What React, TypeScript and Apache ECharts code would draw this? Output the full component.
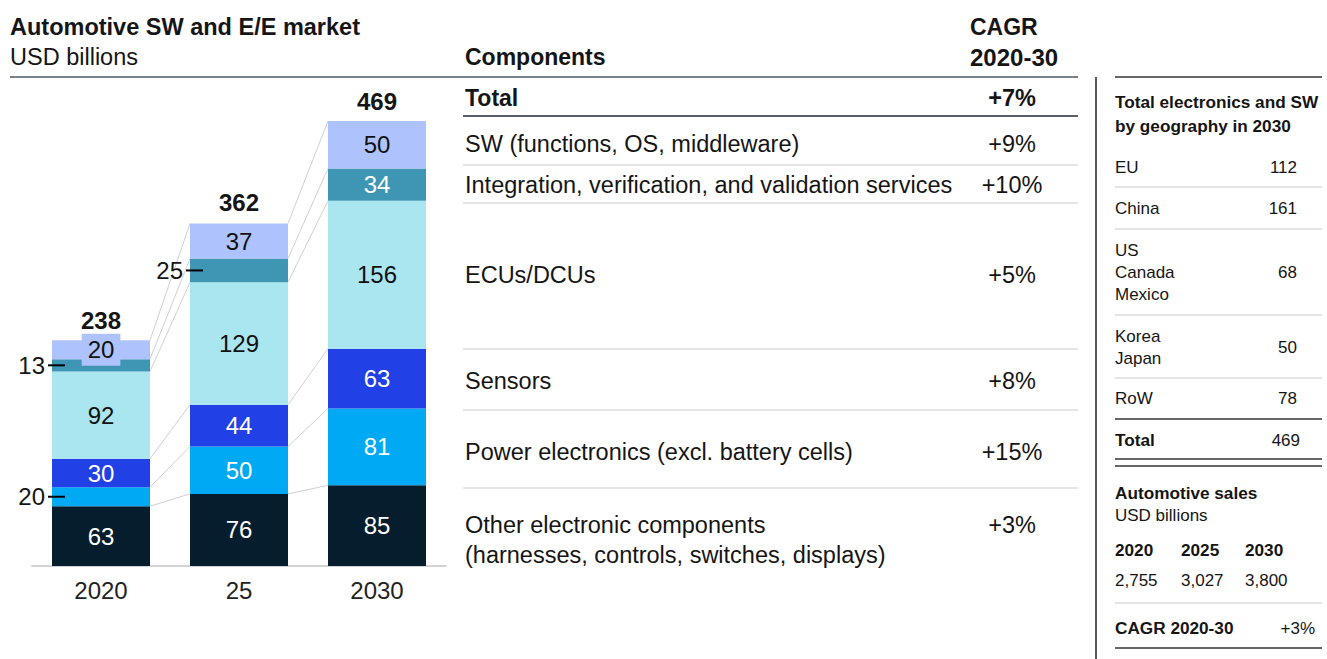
import React, { useEffect, useRef } from "react";
import * as echarts from "echarts";

// ---------- data ----------
const years = ["2020", "25", "2030"];
const seriesNames = [
  "Other electronic components",
  "Power electronics",
  "Sensors",
  "ECUs/DCUs",
  "Integration, verification, and validation services",
  "SW (functions, OS, middleware)",
];
const otherVals = [63, 76, 85];
const powerVals = [20, 50, 81];
const sensorVals = [30, 44, 63];
const ecuVals = [92, 129, 156];
const integrationVals = [13, 25, 34];
const swVals = [20, 37, 50];
const totals = [238, 362, 469];

const componentLabels = [
  ["Total"],
  ["SW (functions, OS, middleware)"],
  ["Integration, verification, and validation services"],
  ["ECUs/DCUs"],
  ["Sensors"],
  ["Power electronics (excl. battery cells)"],
  ["Other electronic components", "(harnesses, controls, switches, displays)"],
];
const componentCagr = ["+7%", "+9%", "+10%", "+5%", "+8%", "+15%", "+3%"];

const geoNames = [["EU"], ["China"], ["US", "Canada", "Mexico"], ["Korea", "Japan"], ["RoW"]];
const geoValues = [112, 161, 68, 50, 78];
const geoTotal = 469;
const salesYears = ["2020", "2025", "2030"];
const salesValues = ["2,755", "3,027", "3,800"];
const salesCagr = "+3%";

// ---------- styles ----------
const FONT = "'Liberation Sans', Arial, sans-serif";
const colors = ["#061d2d", "#00a9f4", "#2140e6", "#aae6f0", "#3e96b4", "#aec3fd"];
const labelColors = ["#ffffff", "#ffffff", "#ffffff", "#111111", "#ffffff", "#111111"];
const BAR_W = 98;
const HALF = BAR_W / 2;
const TEXT = "#151515";

// layout (pixels) of the tables
const rowCenters = [98, 144, 185, 275, 381, 452, 525];
const rowLines = [165, 203, 349, 410, 488];
const geoCenters = [167, 208, 272, 347, 398];
const geoLines = [187, 229, 315, 378];

export default function App() {
  const ref = useRef<HTMLDivElement>(null);

  useEffect(() => {
    document.body.style.margin = "0";
    const chart = echarts.init(ref.current!, undefined, { renderer: "svg" });
    const allVals = [otherVals, powerVals, sensorVals, ecuVals, integrationVals, swVals];

    // cumulative tops
    const cum: number[][] = [];
    allVals.forEach((vals, k) => {
      cum.push(vals.map((v, i) => (k === 0 ? 0 : cum[k - 1][i]) + v));
    });

    const barSeries = allVals.map((vals, k) => ({
      name: seriesNames[k],
      type: "bar",
      stack: "total",
      barWidth: BAR_W,
      itemStyle: { color: colors[k] },
      data: vals.map((v) => {
        const small = v < 26;
        const top = k === allVals.length - 1;
        return {
          value: v,
          label: {
            show: !small || top,
            position: "inside",
            color: labelColors[k],
            fontSize: 24,
            fontFamily: FONT,
            ...(small && top ? { backgroundColor: colors[k], padding: [4, 6] } : {}),
          },
        };
      }),
      z: 3,
    }));

    const connectorData: number[][] = [];
    for (let i = 0; i < years.length - 1; i++) {
      for (let k = 0; k < allVals.length; k++) connectorData.push([i, cum[k][i], cum[k][i + 1]]);
    }

    const calloutData: number[][] = [];
    allVals.forEach((vals, k) => {
      vals.forEach((v, i) => {
        if (v < 26 && k !== allVals.length - 1) {
          const lower = k === 0 ? 0 : cum[k - 1][i];
          calloutData.push([i, lower + v / 2, v]);
        }
      });
    });

    const totalData = totals.map((t, i) => [i, t]);

    const g: any[] = [];
    const txt = (text: string, x: number, y: number, size: number, bold = false, align = "left") =>
      g.push({
        type: "text",
        x,
        y,
        style: {
          text,
          fill: TEXT,
          fontSize: size,
          fontWeight: bold ? "bold" : "normal",
          fontFamily: FONT,
          textAlign: align,
          textVerticalAlign: "middle",
        },
      });
    const ln = (x1: number, y1: number, x2: number, y2: number, color: string, w = 1.5) =>
      g.push({ type: "line", shape: { x1, y1, x2, y2 }, style: { stroke: color, lineWidth: w } });

    // left titles
    txt("Automotive SW and E/E market", 10, 27, 23.5, true);
    txt("USD billions", 10, 57, 23.5);
    // middle table header
    txt("Components", 465, 57, 23, true);
    txt("CAGR", 970, 27, 23, true);
    txt("2020-30", 970, 57, 24, true);
    ln(10, 77, 1078, 77, "#4b5663");
    ln(463, 116, 1078, 116, "#1f2d3d");
    rowLines.forEach((y) => ln(463, y, 1078, y, "#dcdcdc"));
    componentLabels.forEach((lines, r) => {
      lines.forEach((t, j) => txt(t, 465, rowCenters[r] + j * 30, r === 0 ? 23 : 23.5, r === 0));
      txt(componentCagr[r], 1012, rowCenters[r], 23.5, r === 0, "center");
    });

    // right panel
    ln(1096, 77, 1096, 659, "#222222");
    ln(1115, 77, 1322, 77, "#333333");
    txt("Total electronics and SW", 1115, 102, 17.2, true);
    txt("by geography in 2030", 1115, 126, 17.2, true);
    geoNames.forEach((lines, r) => {
      const n = lines.length;
      lines.forEach((t, j) => txt(t, 1115, geoCenters[r] + (j - (n - 1) / 2) * 22, 17));
      txt(String(geoValues[r]), 1297, geoCenters[r], 17, false, "right");
    });
    geoLines.forEach((y) => ln(1115, y, 1322, y, "#dcdcdc"));
    ln(1115, 419, 1322, 419, "#333333");
    txt("Total", 1115, 440, 17.2, true);
    txt(String(geoTotal), 1300, 440, 17, false, "right");
    ln(1115, 459, 1322, 459, "#333333");
    ln(1115, 466, 1322, 466, "#333333");
    txt("Automotive sales", 1115, 493, 17.2, true);
    txt("USD billions", 1115, 515, 17);
    const salesX = [1115, 1181, 1245];
    salesYears.forEach((y, i) => txt(y, salesX[i], 550, 17.2, true));
    salesValues.forEach((v, i) => txt(v, salesX[i], 580, 17));
    ln(1115, 603, 1322, 603, "#dcdcdc");
    txt("CAGR 2020-30", 1115, 628, 17.2, true);
    txt(salesCagr, 1315, 628, 17, false, "right");
    ln(1115, 648, 1322, 648, "#333333");

    chart.setOption({
      animation: false,
      grid: { left: 32, width: 414, top: 121, bottom: 93 },
      xAxis: {
        type: "category",
        data: years,
        axisLine: { lineStyle: { color: "#d4d4d4", width: 2 } },
        axisTick: { show: false },
        axisLabel: { fontSize: 24, color: "#222", fontFamily: FONT, margin: 12 },
      },
      yAxis: { type: "value", min: 0, max: 469, show: false, splitLine: { show: false } },
      series: [
        ...barSeries,
        {
          type: "custom",
          name: "connectors",
          data: connectorData,
          z: 1,
          silent: true,
          renderItem: (_p: any, api: any) => {
            const i = api.value(0);
            const p1 = api.coord([i, api.value(1)]);
            const p2 = api.coord([i + 1, api.value(2)]);
            return {
              type: "line",
              shape: { x1: p1[0] + HALF, y1: p1[1], x2: p2[0] - HALF, y2: p2[1] },
              style: { stroke: "#d0d0d0", lineWidth: 1 },
            };
          },
        },
        {
          type: "custom",
          name: "callouts",
          data: calloutData,
          z: 5,
          silent: true,
          renderItem: (_p: any, api: any) => {
            const p = api.coord([api.value(0), api.value(1)]);
            const left = p[0] - HALF;
            return {
              type: "group",
              children: [
                {
                  type: "line",
                  shape: { x1: left - 4, y1: p[1], x2: left + 13, y2: p[1] },
                  style: { stroke: "#000", lineWidth: 2 },
                },
                {
                  type: "text",
                  x: left - 7,
                  y: p[1],
                  style: {
                    text: String(api.value(2)),
                    fill: TEXT,
                    fontSize: 24,
                    fontFamily: FONT,
                    textAlign: "right",
                    textVerticalAlign: "middle",
                  },
                },
              ],
            };
          },
        },
        {
          type: "custom",
          name: "totals",
          data: totalData,
          z: 5,
          silent: true,
          renderItem: (_p: any, api: any) => {
            const p = api.coord([api.value(0), api.value(1)]);
            return {
              type: "text",
              x: p[0],
              y: p[1] - 20,
              style: {
                text: String(api.value(1)),
                fill: TEXT,
                fontSize: 24,
                fontWeight: "bold",
                fontFamily: FONT,
                textAlign: "center",
                textVerticalAlign: "middle",
              },
            };
          },
        },
      ],
      graphic: g,
    });

    return () => chart.dispose();
  }, []);

  return (
    <div
      ref={ref}
      style={{ position: "fixed", left: 0, top: 0, width: 1327, height: 659, background: "#fff" }}
    />
  );
}
